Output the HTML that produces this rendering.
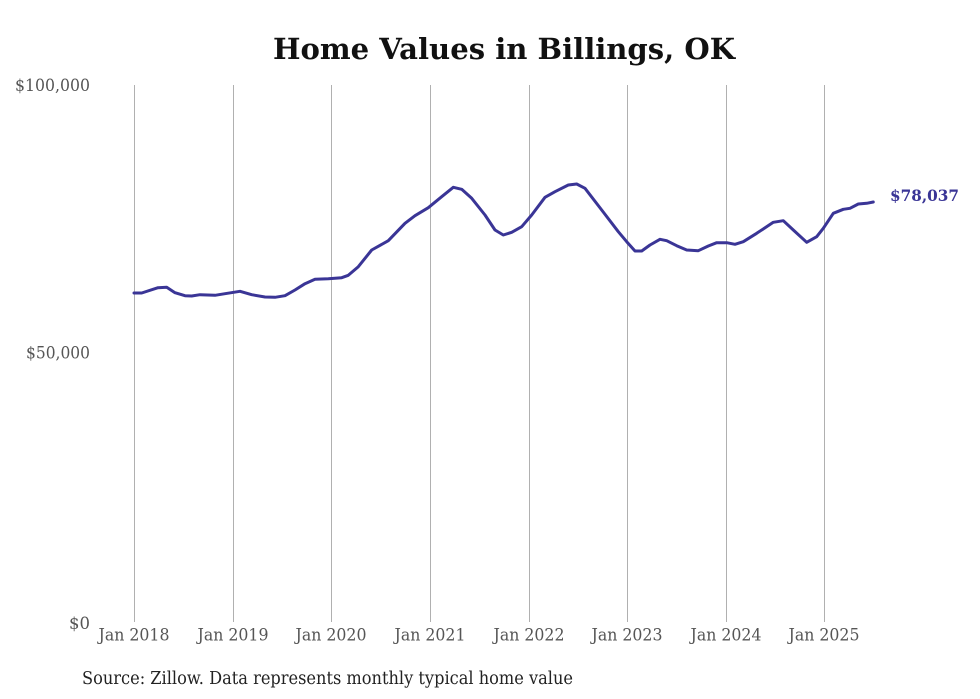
<!DOCTYPE html>
<html><head><meta charset="utf-8"><style>
html,body{margin:0;padding:0;background:#fff;}
svg{display:block;}
text{font-family:"DejaVu Serif","Liberation Serif",serif;}
</style></head><body>
<svg width="980" height="699" viewBox="0 0 980 699" xmlns="http://www.w3.org/2000/svg">
<rect width="980" height="699" fill="#fff"/>
<text x="504" y="59" text-anchor="middle" font-size="29" font-weight="bold" fill="#111" textLength="462" lengthAdjust="spacingAndGlyphs">Home Values in Billings, OK</text>
<g stroke="#b0b0b0" stroke-width="1">
<line x1="134.5" y1="85" x2="134.5" y2="622"/>
<line x1="233.5" y1="85" x2="233.5" y2="622"/>
<line x1="331.5" y1="85" x2="331.5" y2="622"/>
<line x1="430.5" y1="85" x2="430.5" y2="622"/>
<line x1="529.5" y1="85" x2="529.5" y2="622"/>
<line x1="627.5" y1="85" x2="627.5" y2="622"/>
<line x1="726.5" y1="85" x2="726.5" y2="622"/>
<line x1="824.5" y1="85" x2="824.5" y2="622"/>
</g>
<g fill="#555" font-size="16.5">
<text x="90" y="91" text-anchor="end" textLength="75" lengthAdjust="spacingAndGlyphs">$100,000</text>
<text x="90" y="358.5" text-anchor="end" textLength="64" lengthAdjust="spacingAndGlyphs">$50,000</text>
<text x="90" y="629" text-anchor="end">$0</text>
</g>
<g fill="#555" font-size="16.5" text-anchor="middle">
<text x="134" y="640.5" textLength="71" lengthAdjust="spacingAndGlyphs">Jan 2018</text>
<text x="233" y="640.5" textLength="71" lengthAdjust="spacingAndGlyphs">Jan 2019</text>
<text x="331" y="640.5" textLength="71" lengthAdjust="spacingAndGlyphs">Jan 2020</text>
<text x="430" y="640.5" textLength="71" lengthAdjust="spacingAndGlyphs">Jan 2021</text>
<text x="529" y="640.5" textLength="71" lengthAdjust="spacingAndGlyphs">Jan 2022</text>
<text x="627" y="640.5" textLength="71" lengthAdjust="spacingAndGlyphs">Jan 2023</text>
<text x="726" y="640.5" textLength="71" lengthAdjust="spacingAndGlyphs">Jan 2024</text>
<text x="824" y="640.5" textLength="71" lengthAdjust="spacingAndGlyphs">Jan 2025</text>
</g>
<text x="82" y="684" font-size="17.5" fill="#222" textLength="491" lengthAdjust="spacingAndGlyphs">Source: Zillow. Data represents monthly typical home value</text>
<polyline fill="none" stroke="#3a3596" stroke-width="3" stroke-linejoin="round" stroke-linecap="round" points="
134,293 141.7,293 158,287.7 166.7,287.3 175,292.7 185,295.7 191.7,296 200,294.7 215,295.3 225,293.7 240,291.3 251.7,294.7 265,297 275,297.3 285,295.7 295,290 305,283.7 315,279.3 328.3,278.7 341.7,277.7 348.3,275.3 358.3,266.7 371.7,250 388.3,240.7 405,223.3 415,215.7 428.3,207.7 441.7,196.7 453.3,187.3 461.7,189.3 471.7,198.3 485,215 495,230 503.3,235 511.7,232.3 521.7,226.7 531.7,215 545,197.3 555,191.7 568.3,185 576.7,184 585,188.3 601.7,210 618.3,231.7 626.7,241.7 635,251 641.7,251 650,245 660,239.3 666.7,240.7 676.7,245.7 686.7,250 698.3,250.7 708.3,246 716.7,242.7 726.7,242.7 735,244.3 743.3,241.7 756.7,233.3 773.3,222.3 783.3,220.7 793.3,230 806.7,242.3 816.7,236.7 823.3,228.3 833.3,213.3 843.3,209.3 850,208.3 858.3,204 866.7,203.3 873.3,202"/>
<text x="890" y="201" font-size="16" font-weight="bold" fill="#3a3596" textLength="69" lengthAdjust="spacingAndGlyphs">$78,037</text>
</svg>
</body></html>
